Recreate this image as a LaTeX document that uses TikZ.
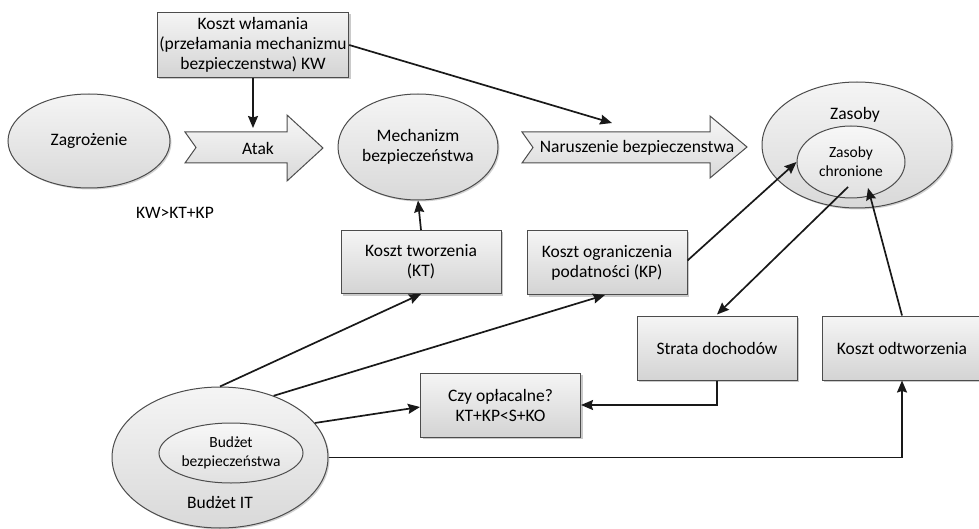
\documentclass[tikz,border=0pt]{standalone}
\usepackage{fontspec}
\setmainfont{Carlito}
\usetikzlibrary{arrows.meta,shadows,calc,shapes.geometric}
\tikzset{
  every node/.style={font=\fontsize{17.5}{20}\selectfont, text=black},
  box/.style={draw=black!70, line width=1pt, top color=white!96!black, bottom color=black!17,
    minimum width=160pt, minimum height=64pt, align=center, inner sep=2pt,
    drop shadow={shadow xshift=2pt, shadow yshift=-2pt, opacity=0.35, fill=black!60}},
  oval/.style={ellipse, draw=black!70, line width=1pt, top color=white!96!black, bottom color=black!15,
    align=center, inner sep=0pt,
    drop shadow={shadow xshift=1.5pt, shadow yshift=-1.5pt, opacity=0.3, fill=black!60}},
  ovalin/.style={ellipse, draw=black!70, line width=1pt, top color=white!97!black, bottom color=black!12,
    align=center, inner sep=0pt},
  barrow/.style={draw=black!70, line width=1pt, top color=white!97!black, bottom color=black!15},
  conn/.style={draw=black!90, line width=1.7pt, -{Stealth[length=12pt,width=10pt,inset=1.5pt]}},
}
\begin{document}
\begin{tikzpicture}[x=1pt,y=-1pt]
\useasboundingbox (0,0) rectangle (979,529);

% block arrows
\path[barrow] (185,132) -- (287,132) -- (287,115) -- (323,148) -- (287,181) -- (287,163) -- (185,163) -- (196,147.5) -- cycle;
\path[barrow] (522,132) -- (710,132) -- (710,116) -- (747,147) -- (710,178) -- (710,163) -- (522,163) -- (533,147.5) -- cycle;
\node (atak) at (258,148) {Atak};
\node (naru) at (637,148) {Naruszenie bezpieczenstwa};
\coordinate (atakTop) at (253,128);
\coordinate (naruTop) at (612,123);

% ellipses
\node[oval, minimum width=162pt, minimum height=94pt] (zag) at (89,141) {Zagrożenie};
\node[oval, minimum width=160pt, minimum height=106pt] (mech) at (418,147) {Mechanizm\\bezpieczeństwa};
\node[oval, minimum width=190pt, minimum height=126pt] (zas) at (857,145) {};
\node (zaslab) at (855,115) {Zasoby};
\node[ovalin, minimum width=108pt, minimum height=72pt, font=\fontsize{15.5}{19}\selectfont] (zi) at (851,162) {Zasoby\\chronione};
\node[oval, minimum width=216pt, minimum height=141pt] (bit) at (220,457.5) {};
\node (bitlab) at (220,502) {Budżet IT};
\node[ovalin, minimum width=144pt, minimum height=60pt, font=\fontsize{15.5}{19}\selectfont] (bb) at (231,453) {Budżet\\bezpieczeństwa};

% boxes
\node[box, minimum width=190pt, minimum height=65pt] (kw) at (253,45) {Koszt włamania\\(przełamania mechanizmu\\bezpieczenstwa) KW};
\node[box, minimum height=63pt] (kt) at (421,262) {Koszt tworzenia\\(KT)};
\node[box] (kp) at (607,262.5) {Koszt ograniczenia\\podatności (KP)};
\node[box] (sd) at (717,348) {Strata dochodów};
\node[box] (ko) at (902,348) {Koszt odtworzenia};
\node[box] (czy) at (500.5,405) {Czy opłacalne?\\KT+KP<S+KO};

\node (ineq) at (175,213) {KW>KT+KP};

% connectors
\draw[conn] (kw.south) -- (atakTop);
\draw[conn] (kw.east) -- (naruTop);
\draw[conn] (kt.north) -- (mech.south);
\draw[conn] ($(kp.east)+(0,-2)$) -- (zi.west);
\draw[conn] ($(zi.center)+(-3,25)$) -- ($(sd.north)+(0,-1)$);
\draw[conn] (ko.north) -- ($(zi.center)+(17,26)$);
\draw[conn] (sd.south) |- (czy.east);
\draw[conn] (bit.north) -- (kt.south);
\draw[conn] (bit.49) -- ($(kp.south)+(-2,0)$);
\draw[conn] (bit.20) -- ($(czy.west)+(0,2)$);
\draw[conn] (bit.east) -| (ko.south);
\end{tikzpicture}
\end{document}
